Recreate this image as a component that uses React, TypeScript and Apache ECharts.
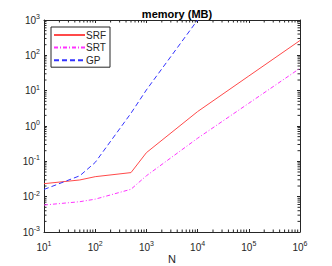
import React, { useEffect, useRef } from "react";
import * as echarts from "echarts";

const N = [10, 50, 100, 500, 1000, 10000, 100000, 1000000];
const SRF = [0.0233, 0.0297, 0.0368, 0.048, 0.176, 2.56, 26, 263];
const SRT = [0.0058, 0.0072, 0.0085, 0.0162, 0.039, 0.45, 4.4, 43];
const GP_N = [10, 50, 100, 500, 1000, 10000];
const GP = [0.016, 0.039, 0.093, 2.3, 10.5, 1000];

const X_MIN = 10;
const X_MAX = 1e6;
const Y_MIN = 1e-3;
const Y_MAX = 1e3;

function minorValues(lo: number, hi: number): number[] {
  const out: number[] = [];
  for (let d = lo; d < hi; d *= 10) {
    for (let m = 2; m <= 9; m++) out.push(Math.round(d * m * 1e6) / 1e6);
  }
  return out;
}
const X_MINOR = minorValues(X_MIN, X_MAX);
const Y_MINOR = minorValues(Y_MIN, Y_MAX);

const FONT = "'Liberation Sans', Arial, Helvetica, sans-serif";
const AX = "#262626";

const fmt = (v: number) => `{b|10}{e|${Math.round(Math.log10(v))}}`;
const rich = {
  b: { fontSize: 10, color: AX, fontFamily: FONT },
  e: { fontSize: 7, color: AX, fontFamily: FONT, padding: [0, 0, 7, 0] },
};

export default function App() {
  const ref = useRef<HTMLDivElement>(null);
  useEffect(() => {
    if (!ref.current) return;
    const chart = echarts.init(ref.current, undefined, { renderer: "svg" });
    const TL = 2.5;
    const axisCommon = {
      type: "log" as const,
      logBase: 10,
      axisLine: { show: true, lineStyle: { color: AX, width: 1 } },
      axisTick: { show: true, inside: true, length: TL + 0.5, lineStyle: { color: AX } },
      splitLine: { show: false },
    };
    chart.setOption({
      animation: false,
      backgroundColor: "#ffffff",
      title: {
        text: "memory (MB)",
        left: 172,
        textAlign: "center",
        top: 3,
        textStyle: { fontSize: 11, fontWeight: "bold", color: "#000", fontFamily: FONT },
      },
      legend: {
        orient: "vertical",
        left: 51,
        top: 27,
        padding: [3, 4, 2, 2],
        itemGap: 2.6,
        itemWidth: 31,
        itemHeight: 10,
        itemStyle: { opacity: 0, color: "transparent", borderWidth: 0 },
        borderColor: AX,
        borderWidth: 1,
        backgroundColor: "#fff",
        textStyle: { fontSize: 10, color: AX, fontFamily: FONT, padding: [0, 0, 0, -4] },
        data: ["SRF", "SRT", "GP"],
      },
      grid: { left: 44, right: 32, top: 20, bottom: 34, containLabel: false, outerBoundsMode: "none" },
      xAxis: [
        {
          ...axisCommon,
          min: X_MIN,
          max: X_MAX,
          position: "bottom",
          name: "N",
          nameLocation: "middle",
          nameGap: 21,
          nameMoveOverlap: false,
          nameTextStyle: { fontSize: 11, lineHeight: 11, color: AX, fontFamily: FONT },
          axisLabel: { formatter: fmt, rich, margin: 8 },
        },
        {
          ...axisCommon,
          min: X_MIN,
          max: X_MAX,
          position: "top",
          axisLabel: { show: false },
        },
      ],
      yAxis: [
        {
          ...axisCommon,
          min: Y_MIN,
          max: Y_MAX,
          position: "left",
          axisLabel: { formatter: fmt, rich, margin: 4 },
        },
        {
          ...axisCommon,
          min: Y_MIN,
          max: Y_MAX,
          position: "right",
          axisLabel: { show: false },
        },
      ],
      series: [
        {
          name: "SRF",
          type: "line",
          data: N.map((n, i) => [n, SRF[i]]),
          symbol: "none",
          lineStyle: { color: "#ff4a4a", width: 1 },
          itemStyle: { color: "#ff4a4a" },
        },
        {
          name: "SRT",
          type: "line",
          data: N.map((n, i) => [n, SRT[i]]),
          symbol: "none",
          lineStyle: { color: "#ff33ff", width: 1, type: [4, 2, 1, 2] },
          itemStyle: { color: "#ff33ff" },
        },
        {
          name: "GP",
          type: "line",
          data: GP_N.map((n, i) => [n, GP[i]]),
          symbol: "none",
          lineStyle: { color: "#3333ff", width: 1, type: [5, 3] },
          itemStyle: { color: "#3333ff" },
        },
        {
          type: "custom",
          silent: true,
          data: X_MINOR.map((v) => [v]),
          encode: { x: 0 },
          renderItem: (_p: any, api: any) => {
            const v = api.value(0);
            const b = api.coord([v, Y_MIN]);
            const t = api.coord([v, Y_MAX]);
            return {
              type: "group",
              children: [
                { type: "line", shape: { x1: b[0], y1: b[1], x2: b[0], y2: b[1] - TL }, style: { stroke: AX, lineWidth: 1 } },
                { type: "line", shape: { x1: t[0], y1: t[1], x2: t[0], y2: t[1] + TL }, style: { stroke: AX, lineWidth: 1 } },
              ],
            };
          },
        },
        {
          type: "custom",
          silent: true,
          data: Y_MINOR.map((v) => [X_MIN, v]),
          encode: { x: 0, y: 1 },
          renderItem: (_p: any, api: any) => {
            const v = api.value(1);
            const l = api.coord([X_MIN, v]);
            const r = api.coord([X_MAX, v]);
            return {
              type: "group",
              children: [
                { type: "line", shape: { x1: l[0], y1: l[1], x2: l[0] + TL, y2: l[1] }, style: { stroke: AX, lineWidth: 1 } },
                { type: "line", shape: { x1: r[0], y1: r[1], x2: r[0] - TL, y2: r[1] }, style: { stroke: AX, lineWidth: 1 } },
              ],
            };
          },
        },
      ],
    });
    return () => chart.dispose();
  }, []);
  return (
    <div
      ref={ref}
      style={{ position: "fixed", left: 0, top: 0, width: 332, height: 266 }}
    />
  );
}
